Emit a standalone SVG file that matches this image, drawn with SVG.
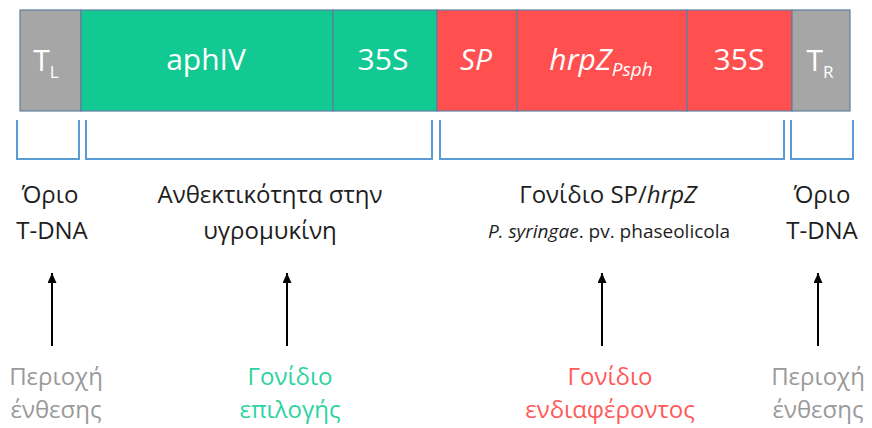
<svg xmlns="http://www.w3.org/2000/svg" width="872" height="428" viewBox="0 0 872 428">
  <style>
    .seg { stroke: #5f7f9f; stroke-width: 1.2; }
    .grey { fill: #a6a6a6; }
    .green { fill: #12c893; }
    .red { fill: #ff4f4f; }
    .bar-label { font-family: "Open Sans", "Liberation Sans", sans-serif; font-size: 30px; fill: #ffffff; text-anchor: middle; }
    .label { font-family: "Open Sans", "Liberation Sans", sans-serif; font-size: 24px; fill: #1e1e1e; text-anchor: middle; }
    .small { font-size: 19px; }
    .bracket { fill: none; stroke: #5b9bd5; stroke-width: 2; }
    .arrow { stroke: #000000; stroke-width: 2; marker-end: url(#head); }
    .note { font-family: "Open Sans", "Liberation Sans", sans-serif; font-size: 24px; text-anchor: middle; }
  </style>
  <defs>
    <marker id="head" markerWidth="10" markerHeight="10" refX="10" refY="4.5" orient="auto" markerUnits="userSpaceOnUse">
      <path d="M0,0 L10,4.5 L0,9 z" fill="#000000"/>
    </marker>
  </defs>
  <rect width="872" height="428" fill="#ffffff"/>

  <!-- T-DNA construct bar -->
  <g id="tl">
    <rect class="seg grey" x="20" y="10" width="61" height="101"/>
    <text class="bar-label" x="46" y="71">T<tspan font-size="17" dy="7">L</tspan></text>
  </g>
  <g id="aphIV">
    <rect class="seg green" x="81" y="10" width="252" height="101"/>
    <text class="bar-label" x="206" y="70">aphIV</text>
  </g>
  <g id="p35s-1">
    <rect class="seg green" x="333" y="10" width="104" height="101"/>
    <text class="bar-label" x="383" y="70">35S</text>
  </g>
  <g id="sp">
    <rect class="seg red" x="437" y="10" width="80" height="101"/>
    <text class="bar-label" x="476" y="70" font-style="italic">SP</text>
  </g>
  <g id="hrpZ">
    <rect class="seg red" x="517" y="10" width="170" height="101"/>
    <text class="bar-label" x="601" y="70" font-style="italic">hrpZ<tspan font-size="19" dy="6">Psph</tspan></text>
  </g>
  <g id="p35s-2">
    <rect class="seg red" x="687" y="10" width="105" height="101"/>
    <text class="bar-label" x="739" y="70">35S</text>
  </g>
  <g id="tr">
    <rect class="seg grey" x="792" y="10" width="58" height="101"/>
    <text class="bar-label" x="820" y="71">T<tspan font-size="17" dy="7">R</tspan></text>
  </g>

  <!-- brackets -->
  <g id="brackets">
    <path class="bracket" d="M17,120 V159 H79 V120"/>
    <path class="bracket" d="M86,120 V159 H432 V120"/>
    <path class="bracket" d="M440,120 V159 H784 V120"/>
    <path class="bracket" d="M791,120 V159 H853 V120"/>
  </g>

  <!-- region descriptions -->
  <g id="border-left">
    <text class="label" x="50" y="203">Όριο</text>
    <text class="label" x="52" y="239">T-DNA</text>
  </g>
  <g id="resistance">
    <text class="label" x="270" y="203">Ανθεκτικότητα στην</text>
    <text class="label" x="270" y="239">υγρομυκίνη</text>
  </g>
  <g id="gene-hrpz">
    <text class="label" x="608" y="203">Γονίδιο SP/<tspan font-style="italic">hrpZ</tspan></text>
    <text class="label small" x="609" y="238"><tspan font-style="italic">P. syringae</tspan>. pv. phaseolicola</text>
  </g>
  <g id="border-right">
    <text class="label" x="822" y="203">Όριο</text>
    <text class="label" x="822" y="239">T-DNA</text>
  </g>

  <!-- arrows -->
  <g id="connectors">
    <line class="arrow" x1="52" y1="346" x2="52" y2="273"/>
    <line class="arrow" x1="287" y1="346" x2="287" y2="273"/>
    <line class="arrow" x1="602" y1="346" x2="602" y2="273"/>
    <line class="arrow" x1="818" y1="346" x2="818" y2="273"/>
  </g>

  <!-- category labels -->
  <g id="insert-left">
    <text class="note" x="56" y="385" fill="#9a9a9a">Περιοχή</text>
    <text class="note" x="56" y="418" fill="#9a9a9a">ένθεσης</text>
  </g>
  <g id="selection">
    <text class="note" x="290" y="385" fill="#2ed3a3">Γονίδιο</text>
    <text class="note" x="290" y="418" fill="#2ed3a3">επιλογής</text>
  </g>
  <g id="interest">
    <text class="note" x="610" y="385" fill="#ff5a5a">Γονίδιο</text>
    <text class="note" x="610" y="418" fill="#ff5a5a">ενδιαφέροντος</text>
  </g>
  <g id="insert-right">
    <text class="note" x="818" y="385" fill="#9a9a9a">Περιοχή</text>
    <text class="note" x="818" y="418" fill="#9a9a9a">ένθεσης</text>
  </g>
</svg>
